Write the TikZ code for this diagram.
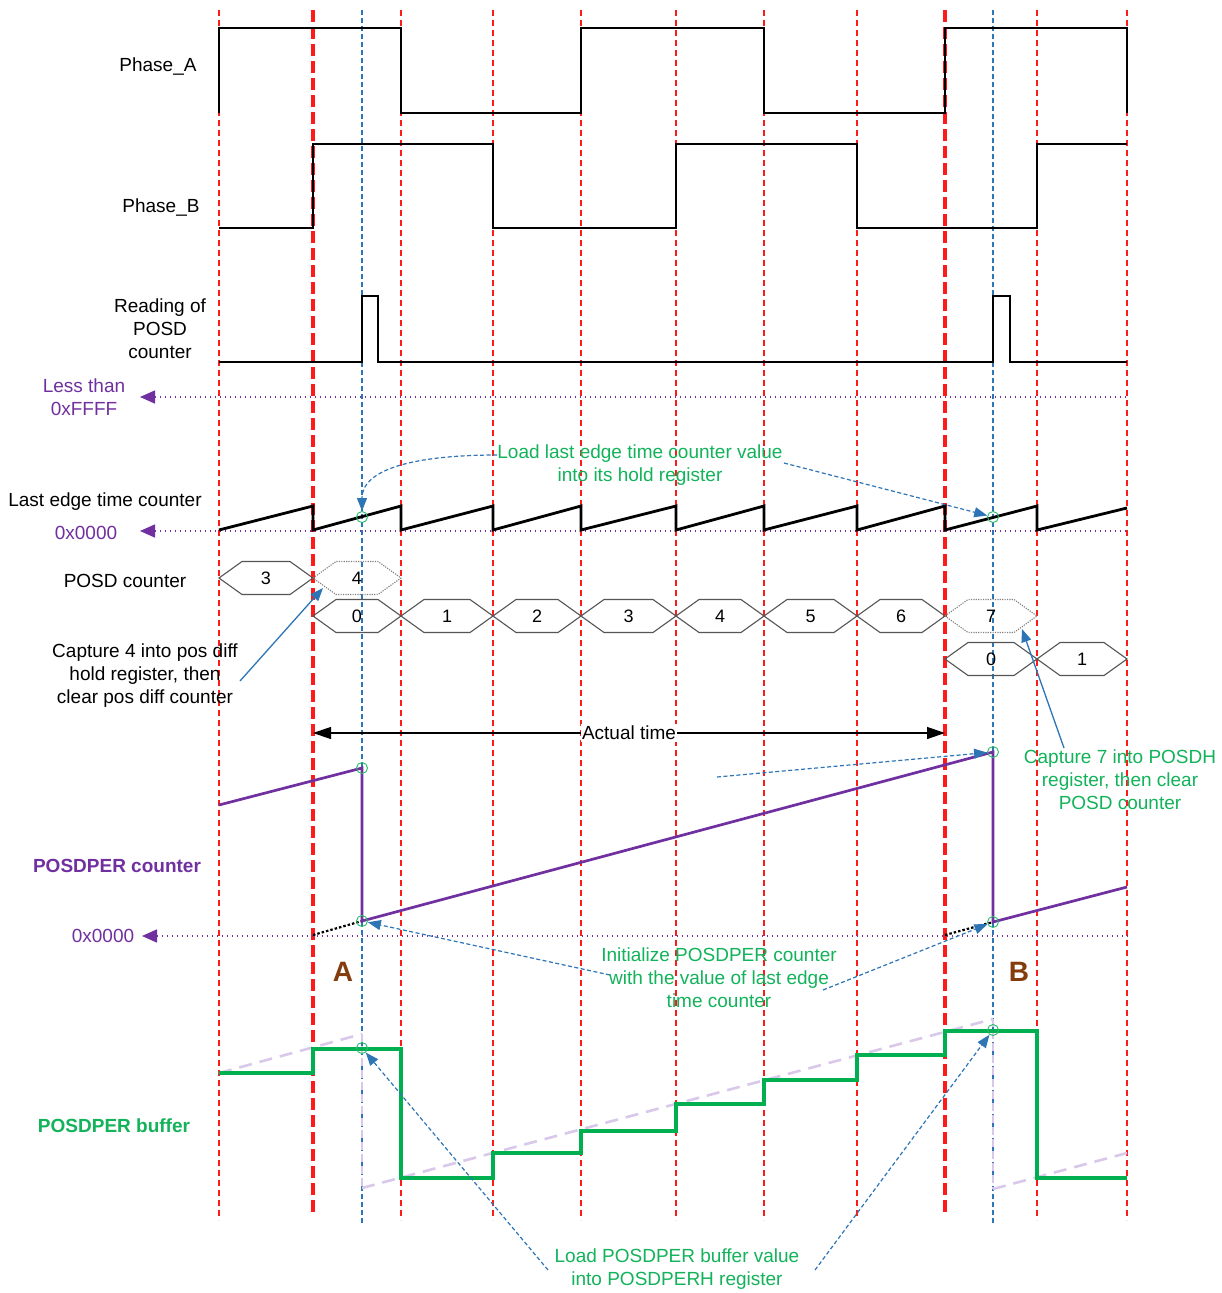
\documentclass[tikz,border=0pt]{standalone}
\usepackage{fontspec}
\setmainfont{Liberation Sans}
\usetikzlibrary{arrows.meta}
\definecolor{redl}{HTML}{FF1A1A}
\definecolor{bluel}{HTML}{2E75B6}
\definecolor{purp}{HTML}{7030A0}
\definecolor{grn}{HTML}{00B050}
\definecolor{gtext}{HTML}{12B35A}
\definecolor{brn}{HTML}{843C0C}
\definecolor{lav}{HTML}{D9C8EA}
\definecolor{hexgray}{HTML}{555555}
\newcommand{\hexcell}[6]{%
  \draw[#6] (#2,#4) -- ({#2+23},{#4-16.5}) -- ({#3-23},{#4-16.5}) -- (#3,#4) -- ({#3-23},{#4+16.5}) -- ({#2+23},{#4+16.5}) -- cycle;
  \node[numtxt] (#1) at ({(#2+#3)/2},#4) {#5};}
\begin{document}
\begin{tikzpicture}[x=1pt,y=-1pt,
  every node/.style={font=\fontsize{19}{23}\selectfont, inner sep=0pt, align=center},
  numtxt/.style={font=\fontsize{18}{20}\selectfont},
  thinred/.style={draw=redl, line width=1.2pt, dash pattern=on 6pt off 4pt},
  thickred/.style={draw=redl, line width=3.6pt, dash pattern=on 12pt off 5pt},
  bluev/.style={draw=bluel, line width=1.1pt, dash pattern=on 5pt off 3pt},
  wave/.style={draw=black, line width=2.8pt, line join=miter},
  purpwave/.style={draw=purp, line width=2.7pt, line join=miter},
  grnwave/.style={draw=grn, line width=3.2pt, line join=miter},
  lavdash/.style={draw=lav, line width=2.6pt, dash pattern=on 13pt off 8pt},
  lavthin/.style={draw=lav, line width=1.4pt, dash pattern=on 8pt off 4pt},
  purpdot/.style={draw=purp, line width=1.5pt, dash pattern=on 1.5pt off 3.5pt, {Triangle[length=15pt,width=13pt]}-},
  blackdot/.style={draw=black, line width=2.2pt, dash pattern=on 2.5pt off 2pt},
  hexs/.style={draw=hexgray, line width=1.1pt, line join=miter},
  hexd/.style={draw=hexgray!75, line width=1.1pt, dash pattern=on 1.2pt off 1.2pt},
  gcirc/.style={circle, draw=grn!85, line width=0.9pt, minimum size=11pt, inner sep=0pt},
  bluearr/.style={draw=bluel, line width=1.2pt, dash pattern=on 4pt off 2.5pt, -{Triangle[length=13pt,width=10pt]}},
  bluesolid/.style={draw=bluel, line width=1.3pt, -{Triangle[length=13pt,width=10pt]}},
  timearr/.style={draw=black, line width=1.3pt, {Triangle[length=18pt,width=12pt]}-{Triangle[length=18pt,width=12pt]}},
  ptxt/.style={text=purp},
  gtxt/.style={text=gtext},
  bigl/.style={font=\fontsize{28}{30}\selectfont\bfseries, text=brn}
]
\useasboundingbox[fill=white] (0,0) rectangle (1222,1293);

% ---------- vertical guide lines ----------
\foreach \xx in {219,401,493,581,676,764,857,1037,1127}
  \draw[thinred] (\xx,10) -- (\xx,1220);
\foreach \xx in {313,945}
  \draw[thickred] (\xx,10) -- (\xx,1215);
\foreach \xx in {362,993}
  \draw[bluev] (\xx,10) -- (\xx,1225);

% ---------- Phase A / B ----------
\draw[wave] (219,113) -- (219,28) -- (401,28) -- (401,113) -- (581,113) -- (581,28) -- (764,28) -- (764,113) -- (945,113) -- (945,28) -- (1127,28) -- (1127,113);
\draw[wave] (219,228) -- (313,228) -- (313,144) -- (493,144) -- (493,228) -- (676,228) -- (676,144) -- (857,144) -- (857,228) -- (1037,228) -- (1037,144) -- (1127,144);
% ---------- Reading of POSD ----------
\draw[wave] (219,362) -- (362,362) -- (362,296) -- (378,296) -- (378,362) -- (993,362) -- (993,296) -- (1010,296) -- (1010,362) -- (1127,362);

% ---------- Less than 0xFFFF ----------
\draw[purpdot] (140,397) -- (1127,397);

% ---------- Last edge time counter ----------
\draw[purpdot] (140,531) -- (1127,531);
\draw[wave] (219,530) -- (313,506) -- (313,530) -- (401,506) -- (401,530) -- (493,506) -- (493,530) -- (581,506) -- (581,530) -- (676,506) -- (676,530) -- (764,506) -- (764,530) -- (857,506) -- (857,530) -- (945,506) -- (945,530) -- (1037,506) -- (1037,530) -- (1127,508);
\node[gcirc] (c1) at (362,517) {};
\node[gcirc] (c2) at (993,517) {};

% ---------- POSD counter hexagons ----------
\hexcell{h3a}{219}{313}{578}{3}{hexs}
\hexcell{h4a}{313}{401}{578}{4}{hexd}
\hexcell{r0}{313}{401}{616}{0}{hexs}
\hexcell{r1}{401}{493}{616}{1}{hexs}
\hexcell{r2}{493}{581}{616}{2}{hexs}
\hexcell{r3}{581}{676}{616}{3}{hexs}
\hexcell{r4}{676}{764}{616}{4}{hexs}
\hexcell{r5}{764}{857}{616}{5}{hexs}
\hexcell{r6}{857}{945}{616}{6}{hexs}
\hexcell{r7}{945}{1037}{616}{7}{hexd}
\hexcell{s0}{945}{1037}{659}{0}{hexs}
\hexcell{s1}{1037}{1127}{659}{1}{hexs}

% ---------- Actual time ----------
\coordinate (tA) at (313,733);
\coordinate (tB) at (945,733);
\draw[timearr] (tA) -- (tB);
\node[fill=white, inner xsep=1pt, inner ysep=2pt] (atime) at (629,733) {Actual time};

% ---------- POSDPER counter ----------
\draw[purpdot] (142,936) -- (1127,936);
\draw[blackdot] (313,935) -- (362,921);
\draw[blackdot] (945,935) -- (993,922);
\draw[purpwave] (219,805) -- (362,768) -- (362,921) -- (993,752) -- (993,922) -- (1127,887);
\node[gcirc] (c3) at (362,768) {};
\node[gcirc] (c4) at (362,921) {};
\node[gcirc] (c5) at (993,752) {};
\node[gcirc] (c6) at (993,922) {};
\node[bigl] (labA) at (343,972) {A};
\node[bigl] (labB) at (1019,972) {B};

% ---------- POSDPER buffer ----------
\draw[lavdash] (219,1073) -- (362,1034);
\draw[lavthin] (362,1034) -- (362,1188);
\draw[lavdash] (362,1188) -- (993,1019);
\draw[lavthin] (993,1019) -- (993,1189);
\draw[lavdash] (993,1189) -- (1127,1153);
\draw[grnwave] (219,1073) -- (313,1073) -- (313,1049) -- (401,1049) -- (401,1178) -- (493,1178) -- (493,1153) -- (581,1153) -- (581,1131) -- (676,1131) -- (676,1104) -- (764,1104) -- (764,1080) -- (857,1080) -- (857,1055) -- (945,1055) -- (945,1031) -- (1037,1031) -- (1037,1178) -- (1127,1178);
\node[gcirc] (c7) at (362,1048) {};
\node[gcirc] (c8) at (993,1030) {};

% ---------- left labels ----------
\node (phA) at (158,67) {Phase\_A};
\node (phB) at (161,208) {Phase\_B};
\node (rd) at (160,329) {Reading of\\POSD\\counter};
\node[ptxt] (lt) at (84,397) {Less than\\0xFFFF};
\node (le) at (105,502) {Last edge time counter};
\node[ptxt] (z1) at (86,533) {0x0000};
\node (pc) at (125,581) {POSD counter};
\node[ptxt, font=\fontsize{19}{23}\selectfont\bfseries] (ppc) at (117,866) {POSDPER counter};
\node[ptxt] (z2) at (103,936) {0x0000};
\node[gtxt, font=\fontsize{19}{23}\selectfont\bfseries] (ppb) at (114,1126) {POSDPER buffer};

% ---------- annotations ----------
\node[gtxt] (loadlast) at (640,465) {Load last edge time counter value\\into its hold register};
\coordinate (ll1) at (497,455);
\coordinate (ll2) at (784,463);
\draw[bluearr] (ll1) .. controls (425,455) and (362,466) .. (c1);
\draw[bluearr] (ll2) -- (c2);

\node (cap4) at (145,676) {Capture 4 into pos diff\\hold register, then\\clear pos diff counter};
\coordinate (cap4s) at (240,681);
\coordinate (cap4e) at (323,588);
\draw[bluesolid] (cap4s) -- (cap4e);

\node[gtxt] (cap7) at (1120,780) {Capture 7 into POSDH\\register, then clear\\POSD counter};
\coordinate (cap7s) at (1064,748);
\coordinate (cap7e) at (1022,629);
\draw[bluesolid] (cap7s) -- (cap7e);

\coordinate (pp1) at (717,777);
\draw[bluearr] (pp1) -- (c5);

\coordinate (in1) at (610,975);
\coordinate (in2) at (823,990);
\draw[bluearr] (in1) -- (c4);
\draw[bluearr] (in2) -- (c6);
\node[gtxt] (init) at (719,978) {Initialize POSDPER counter\\with the value of last edge\\time counter};

\coordinate (lb1) at (548,1270);
\coordinate (lb2) at (815,1270);
\draw[bluearr] (lb1) -- (c7);
\draw[bluearr] (lb2) -- (c8);
\node[gtxt] (ldbuf) at (677,1269) {Load POSDPER buffer value\\into POSDPERH register};
\end{tikzpicture}
\end{document}
